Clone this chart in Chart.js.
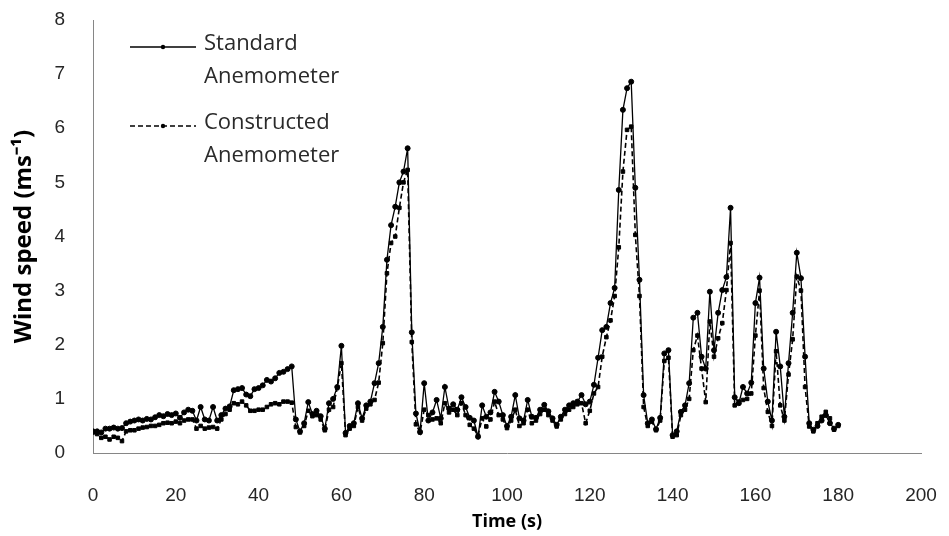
<!DOCTYPE html>
<html>
<head>
<meta charset="utf-8">
<script src="https://cdn.jsdelivr.net/npm/chart.js@4.4.1/dist/chart.umd.min.js"></script>
<style>
  body{margin:0;background:#fff;}
  #wrap{width:949px;height:536px;}
</style>
</head>
<body>
<div id="wrap"><canvas id="windChart" width="949" height="536"></canvas></div>
<script>
// --- Data (1 s sampling) ---
const timeSec = [
  0,1,2,3,4,5,6,7,8,9,10,11,12,13,14,15,16,17,18,19,20,21,22,23,24,25,26,27,28,29,
  30,31,32,33,34,35,36,37,38,39,40,41,42,43,44,45,46,47,48,49,50,51,52,53,54,55,56,57,58,59,
  60,61,62,63,64,65,66,67,68,69,70,71,72,73,74,75,76,77,78,79,80,81,82,83,84,85,86,87,88,89,
  90,91,92,93,94,95,96,97,98,99,100,101,102,103,104,105,106,107,108,109,110,111,112,113,114,115,116,117,118,119,
  120,121,122,123,124,125,126,127,128,129,130,131,132,133,134,135,136,137,138,139,140,141,142,143,144,145,146,147,148,149,
  150,151,152,153,154,155,156,157,158,159,160,161,162,163,164,165,166,167,168,169,170,171,172,173,174,175,176,177,178,179,180
];

const standardSpeed = [
  0.40,0.40,0.38,0.45,0.45,0.47,0.45,0.46,0.55,0.58,0.60,0.62,0.60,0.63,0.62,0.66,0.70,0.68,0.72,0.70,
  0.73,0.65,0.75,0.80,0.78,0.60,0.85,0.62,0.60,0.85,0.60,0.70,0.82,0.86,1.16,1.18,1.20,1.08,1.05,1.18,
  1.20,1.25,1.35,1.32,1.38,1.48,1.50,1.55,1.60,0.62,0.40,0.55,0.94,0.72,0.78,0.68,0.45,0.92,1.00,1.22,
  1.98,0.37,0.50,0.55,0.92,0.64,0.88,0.95,1.29,1.66,2.33,3.57,4.21,4.55,5.00,5.20,5.63,2.23,0.73,0.39,
  1.29,0.60,0.75,0.98,0.64,1.22,0.82,0.90,0.80,1.03,0.85,0.65,0.60,0.30,0.88,0.67,0.75,1.13,0.95,0.70,
  0.50,0.67,1.07,0.64,0.60,0.98,0.67,0.65,0.80,0.89,0.77,0.64,0.52,0.67,0.80,0.88,0.92,0.95,1.07,0.90,
  0.95,1.26,1.76,2.27,2.33,2.77,3.05,4.86,6.34,6.74,6.86,4.90,3.20,1.07,0.55,0.62,0.44,0.65,1.84,1.90,
  0.33,0.40,0.76,0.88,1.29,2.50,2.59,1.78,1.56,2.98,1.90,2.59,3.01,3.25,4.53,1.03,0.92,1.22,1.10,1.30,
  2.77,3.24,1.56,0.95,0.60,2.24,1.60,0.67,1.66,2.59,3.70,3.23,1.78,0.55,0.43,0.50,0.60,0.70,0.55,0.45,
  0.52
];

const constructedSpeed = [
  0.38,0.35,0.28,0.30,0.25,0.30,0.28,0.22,0.40,0.42,0.42,0.45,0.47,0.48,0.50,0.50,0.52,0.55,0.56,0.55,
  0.58,0.55,0.60,0.62,0.62,0.45,0.50,0.45,0.47,0.48,0.45,0.62,0.72,0.80,0.92,0.90,0.95,0.88,0.78,0.78,
  0.80,0.80,0.85,0.90,0.92,0.90,0.95,0.95,0.93,0.48,0.38,0.50,0.78,0.68,0.70,0.62,0.42,0.80,0.85,1.20,
  1.66,0.33,0.45,0.50,0.85,0.60,0.82,0.90,0.98,1.30,2.03,3.32,3.88,4.00,4.53,5.00,5.23,2.05,0.53,0.38,
  0.80,0.70,0.62,0.64,0.55,0.92,0.75,0.80,0.70,0.92,0.70,0.52,0.45,0.32,0.64,0.49,0.62,0.95,0.70,0.62,
  0.46,0.60,0.80,0.50,0.55,0.80,0.55,0.60,0.72,0.80,0.70,0.60,0.49,0.62,0.72,0.80,0.85,0.90,0.92,0.55,
  0.78,1.10,1.22,1.78,2.14,2.45,2.90,3.80,5.20,5.97,6.03,4.03,2.90,0.85,0.50,0.58,0.42,0.60,1.70,1.76,
  0.30,0.33,0.70,0.80,1.00,1.90,2.17,1.56,0.94,2.43,1.78,2.12,2.40,3.01,3.88,0.88,0.95,0.98,1.00,1.10,
  2.17,3.00,1.20,0.76,0.50,1.88,0.88,0.60,1.45,2.10,3.26,3.00,1.22,0.49,0.40,0.55,0.67,0.76,0.64,0.43,
  0.50
];

const standardLabel = ["Standard", "Anemometer"];
const constructedLabel = ["Constructed", "Anemometer"];
const xTitle = "Time (s)";
const yTitle = "Wind speed (ms\u207B\u00B9)";

// --- Legend drawn inside the plot, top-left, two-line labels ---
const insideLegend = {
  id: "insideLegend",
  afterDraw(chart){
    const ctx = chart.ctx;
    const rows = [47, 126];
    ctx.save();
    chart.data.datasets.forEach((ds, i)=>{
      const y = rows[i];
      ctx.strokeStyle = "#000";
      ctx.lineWidth = ds.borderWidth;
      ctx.setLineDash(ds.borderDash || []);
      ctx.beginPath(); ctx.moveTo(130, y); ctx.lineTo(196, y); ctx.stroke();
      ctx.setLineDash([]);
      ctx.fillStyle = "#000";
      ctx.beginPath(); ctx.arc(163, y, 2.2, 0, Math.PI*2); ctx.fill();
      ctx.font = "22px 'Open Sans'";
      ctx.fillStyle = "#2a2a2a";
      ctx.textBaseline = "middle";
      ctx.textAlign = "left";
      ds.label.forEach((line, k)=> ctx.fillText(line, 204, y - 3 + k*33));
    });
    ctx.restore();
  }
};

const tickFont = {family: "'Liberation Sans Narrow', 'Liberation Sans', sans-serif", size: 19};
const titleFont = {family: "'Open Sans', sans-serif", size: 18, weight: "bold"};

// scales keep a fixed size, no label overhang padding
function fixX(s){ s.height = 83; s.paddingLeft = 0; s.paddingRight = 0; }
function fixY(s){ s.width = 93; s.paddingTop = 0; s.paddingBottom = 0; }

new Chart(document.getElementById("windChart"), {
  type: "line",
  data: {
    labels: timeSec,
    datasets: [
      {label: standardLabel, data: standardSpeed, borderColor: "#000", backgroundColor: "#000",
       borderWidth: 1.3, pointStyle: "circle", pointRadius: 2.5, pointBorderWidth: 1,
       pointBackgroundColor: "#000", pointBorderColor: "#000", tension: 0},
      {label: constructedLabel, data: constructedSpeed, borderColor: "#000", backgroundColor: "#000",
       borderWidth: 1.6, borderDash: [5, 3], pointStyle: "rect", pointRadius: 2.5, pointBorderWidth: 1,
       pointBackgroundColor: "#000", pointBorderColor: "#000", tension: 0}
    ]
  },
  options: {
    responsive: false,
    animation: false,
    events: [],
    layout: {padding: {top: 20, right: 28, left: 0, bottom: 0}},
    plugins: {legend: {display: false}, tooltip: {enabled: false}},
    scales: {
      x: {
        type: "linear", min: 0, max: 200,
        ticks: {stepSize: 20, font: tickFont, color: "#262626", padding: 23, maxRotation: 0},
        grid: {display: false},
        border: {display: true, color: "#868686", width: 1},
        title: {display: true, text: xTitle, font: titleFont, color: "#000", padding: {top: 0, bottom: 3}},
        afterFit: fixX
      },
      y: {
        min: 0, max: 8,
        ticks: {stepSize: 1, font: tickFont, color: "#262626", padding: 20},
        grid: {display: false},
        border: {display: true, color: "#868686", width: 1},
        title: {display: true, text: yTitle, font: {family: "'Open Sans', sans-serif", size: 24, weight: "bold"},
                color: "#000", padding: {top: 10, bottom: 0}},
        afterFit: fixY
      }
    }
  },
  plugins: [insideLegend]
});
</script>
</body>
</html>
